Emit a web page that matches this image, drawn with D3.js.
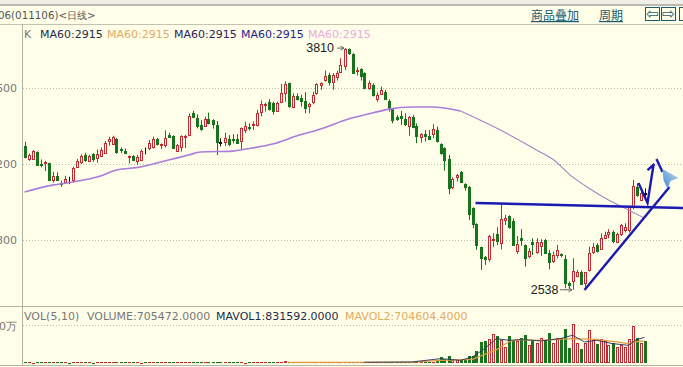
<!DOCTYPE html>
<html><head><meta charset="utf-8">
<style>html,body{margin:0;padding:0;background:#fefee9;overflow:hidden}svg{display:block}text{font-family:"DejaVu Sans",sans-serif;font-size:11px}</style>
<script src="https://cdn.jsdelivr.net/npm/d3@7/dist/d3.min.js"></script>
</head><body><svg id="c" width="683" height="367"></svg>
<script>
const opens=[3294,3226,3228,3263,3198,3209,3205,3114,3137,3102,3105,3119,3116,3184,3209,3247,3219,3251,3230,3244,3261,3319,3305,3333,3277,3270,3240,3244,3217,3221,3270,3284,3289,3331,3301,3300,3354,3347,3266,3286,3344,3354,3466,3440,3405,3400,3435,3430,3405,3314,3316,3333,3330,3332,3322,3379,3397,3404,3406,3471,3513,3525,3521,3476,3527,3572,3625,3499,3560,3546,3532,3506,3525,3572,3616,3642,3669,3634,3662,3683,3714,3805,3779,3690,3700,3679,3597,3618,3541,3569,3581,3534,3492,3448,3451,3437,3400,3448,3399,3343,3357,3346,3358,3379,3306,3283,3227,3078,3130,3160,3093,3081,2967,2885,2762,2709,2702,2800,2832,2783,2906,2927,2902,2744,2809,2772,2716,2788,2734,2771,2802,2730,2688,2720,2725,2700,2576,2581,2611,2630,2569,2643,2739,2774,2751,2814,2832,2844,2790,2832,2853,2853,2976,3081,3011,3046];
const closes=[3235,3247,3268,3196,3193,3212,3116,3135,3116,3096,3123,3117,3180,3216,3242,3219,3244,3226,3251,3273,3312,3331,3344,3263,3273,3259,3244,3221,3237,3270,3268,3312,3330,3307,3305,3335,3344,3286,3298,3345,3347,3452,3447,3400,3386,3438,3414,3407,3317,3310,3335,3308,3325,3313,3390,3399,3392,3411,3467,3514,3516,3490,3479,3520,3572,3620,3502,3557,3543,3532,3497,3518,3564,3620,3627,3664,3634,3669,3681,3720,3804,3783,3681,3695,3665,3599,3625,3564,3564,3590,3544,3493,3432,3439,3439,3413,3446,3397,3348,3357,3344,3330,3385,3322,3260,3218,3072,3120,3142,3107,3078,2937,2885,2774,2702,2699,2821,2806,2797,2909,2914,2867,2776,2779,2797,2704,2743,2779,2788,2790,2734,2685,2720,2748,2720,2572,2564,2636,2632,2569,2629,2730,2765,2744,2809,2828,2844,2797,2832,2878,2867,2972,3085,3037,3046,3042];
const highs=[3317,3256,3273,3266,3224,3216,3207,3159,3156,3112,3138,3133,3186,3226,3251,3259,3249,3256,3277,3287,3321,3344,3349,3337,3287,3282,3245,3247,3247,3277,3287,3326,3344,3337,3308,3377,3365,3351,3305,3351,3354,3466,3480,3461,3431,3449,3470,3435,3426,3335,3365,3352,3357,3357,3393,3423,3414,3423,3485,3534,3523,3541,3528,3528,3621,3635,3628,3572,3572,3564,3578,3523,3581,3625,3630,3692,3681,3678,3690,3757,3810,3808,3783,3709,3704,3683,3639,3625,3576,3607,3590,3541,3493,3458,3479,3467,3453,3458,3414,3362,3379,3379,3409,3397,3309,3288,3248,3130,3148,3163,3099,3085,2972,2888,2765,2716,2827,2836,2867,2993,2932,2930,2914,2821,2857,2776,2757,2809,2809,2804,2806,2748,2739,2774,2730,2721,2581,2704,2643,2639,2630,2765,2783,2783,2835,2844,2857,2850,2839,2885,2888,2976,3116,3099,3063,3072];
const lows=[3230,3217,3224,3191,3182,3163,3110,3102,3112,3080,3094,3094,3102,3180,3200,3212,3216,3212,3207,3238,3254,3296,3301,3254,3258,3252,3203,3216,3194,3217,3251,3273,3282,3298,3279,3287,3337,3282,3263,3265,3284,3352,3444,3387,3375,3396,3408,3386,3247,3293,3294,3294,3309,3309,3278,3362,3376,3379,3397,3450,3476,3481,3460,3474,3520,3528,3495,3495,3534,3502,3467,3467,3514,3564,3590,3634,3613,3590,3639,3678,3695,3774,3674,3665,3639,3593,3590,3555,3528,3564,3541,3476,3414,3427,3406,3400,3348,3388,3309,3313,3318,3327,3336,3313,3248,3165,3041,3067,3107,3099,3060,2906,2862,2748,2643,2669,2686,2762,2774,2751,2879,2860,2772,2727,2769,2660,2704,2721,2727,2716,2727,2646,2678,2704,2709,2546,2546,2538,2604,2564,2546,2634,2727,2734,2748,2804,2809,2783,2783,2821,2839,2839,2962,3028,3007,3020];
const volumes=[18000,26000,16000,24000,20000,28000,17000,22000,30000,19000,25000,16000,23000,27000,18000,21000,29000,16000,24000,19000,26000,22000,17000,28000,20000,23000,18000,25000,21000,16000,27000,19000,24000,22000,28000,17000,20000,26000,18000,23000,30000,19000,25000,21000,17000,24000,28000,20000,22000,18000,26000,23000,19000,27000,21000,16000,25000,20000,24000,18000,22000,29000,19000,26000,45000,52000,30000,21000,17000,24000,19000,23000,26000,20000,28000,18000,22000,25000,19000,21000,24000,35000,42000,20000,18000,26000,22000,24000,30000,19000,23000,27000,21000,25000,38000,40000,26000,32000,36000,44000,38000,46000,48000,56000,190000,140000,215000,110000,87000,87000,110000,217000,217000,390000,683000,715000,770000,932000,867000,737000,520000,867000,715000,715000,824000,900000,574000,715000,660000,824000,737000,975000,660000,824000,824000,1094000,488000,1257000,660000,444000,660000,1062000,737000,628000,770000,715000,574000,660000,520000,574000,520000,791000,1192000,824000,660000,705472];
const maIdx=[0,7,12,19,23,29,36,41,44,52,57,62,68,74,81,87,91,97,102,109,118,128,132,137,141,146,151,155];
const maVals=[3053,3089,3105,3137,3168,3184,3221,3247,3263,3268,3284,3305,3347,3384,3437,3468,3489,3500,3500,3479,3389,3274,3226,3132,3074,3011,2958,2915];
const mavol1Idx=[85,97,104,109,112,115,118,121,125,129,134,137,140,143,147,151,153,155];
const mavol1Vals=[24000,36000,140800,86700,195000,465800,790800,736700,758300,715000,790800,899100,682500,736700,628300,574100,758300,831592];
const mavol2Idx=[66,97,104,112,114,118,121,123,129,133,137,143,148,151,154,155];
const mavol2Vals=[22000,30000,86700,119000,227500,433300,682500,758300,736700,769100,790800,769100,682500,628300,715000,704604];
const priceTicks=[3600,3200,2800];
const volTicks=[1200000];
const maLabels=["MA60:2915","MA60:2915","MA60:2915","MA60:2915","MA60:2915"];
const volLabels=["VOL(5,10)","VOLUME:705472.0000","MAVOL1:831592.0000","MAVOL2:704604.4000"];
const flatLine=[[112.75,2995],[164.75,2968]];
const riseLine=[[140,2537],[161.25,3079]];
const zigLine=[[153.5,3100],[155.75,2995],[157.25,3195]];
const headLine=[[155.75,3168],[157.5,3200]];
const tailLine=[[158,3226],[159.5,3158]];
const cursorShape=[[159.5,3174],[163.5,3126],[161.5,3111],[160.75,3068],[159.75,3116]];

const svg=d3.select("#c");
const x=d3.scaleLinear().domain([0,155]).range([24.5,644.5]);
const y=d3.scaleLinear().domain([2800,3600]).range([240,88]);
const yv=d3.scaleLinear().domain([0,1200000]).range([363,326]);
const BG="#fefee9",RED="#c02a30",GRN="#17741d",AX="#b4b4a4",BLUE="#1a1ab0";
const snap=v=>Math.round(v)+.5;

// chrome
svg.append("rect").attr("x",0).attr("y",0).attr("width",683).attr("height",4).attr("fill","#efefe8");
svg.append("rect").attr("x",0).attr("y",4).attr("width",683).attr("height",2).attr("fill","#b9b9b4");
svg.append("line").attr("x1",0).attr("x2",683).attr("y1",24.5).attr("y2",24.5).attr("stroke","#c4c4ae");
svg.append("line").attr("x1",0).attr("x2",683).attr("y1",306.5).attr("y2",306.5).attr("stroke",AX);
svg.append("line").attr("x1",0).attr("x2",683).attr("y1",365.5).attr("y2",365.5).attr("stroke",AX);
svg.append("line").attr("x1",22.5).attr("x2",22.5).attr("y1",24).attr("y2",366).attr("stroke",AX);

// header
svg.append("text").attr("x",-2).attr("y",19).attr("fill","#555").style("font-size","10.3px").text("06(011106)<日线>");
svg.selectAll(".lnk").data([["商品叠加",531],["周期",599]]).join("text").attr("x",d=>d[1]).attr("y",20)
  .attr("fill","#1d5a6e").style("font-size","12px").style("font-family",'"Noto Sans CJK SC"').attr("text-decoration","underline").text(d=>d[0]);
svg.selectAll(".btn").data([645,661,679]).join("rect").attr("x",d=>d+.5).attr("y",7.5).attr("width",14).attr("height",13).attr("fill","none").attr("stroke","#1d5a6e");
svg.selectAll(".ar").data([["⇦",652.5],["⇨",668.5]]).join("text").attr("x",d=>d[1]).attr("y",19).attr("text-anchor","middle").attr("fill","#1d5a6e").style("font-size","15px").text(d=>d[0]);

// axes / grid
const ax=d3.axisLeft(y).tickValues(priceTicks).tickSize(0).tickPadding(0).tickFormat(d3.format("d"));
const gA=svg.append("g").attr("transform","translate(17,0)").call(ax);
gA.select(".domain").remove();
gA.selectAll("text").attr("fill","#777").attr("dy","0.36em");
svg.selectAll(".grid").data(priceTicks).join("line").attr("x1",23).attr("x2",683).attr("y1",d=>Math.round(y(d))+.5).attr("y2",d=>Math.round(y(d))+.5)
  .attr("stroke","#bcbcac").attr("stroke-dasharray","1,2");
const av=d3.axisLeft(yv).tickValues(volTicks).tickSize(0).tickPadding(0).tickFormat(d=>(d/10000)+"万");
const gV=svg.append("g").attr("transform","translate(17,0)").call(av);
gV.select(".domain").remove();
gV.selectAll("text").attr("fill","#777").attr("dy","0.36em");
svg.selectAll(".vgrid").data(volTicks).join("line").attr("x1",23).attr("x2",683).attr("y1",d=>Math.round(yv(d))-.5).attr("y2",d=>Math.round(yv(d))-.5)
  .attr("stroke","#bcbcac").attr("stroke-dasharray","1,2");

// labels
svg.append("text").attr("x",24).attr("y",38).attr("fill","#777").text("K");
const maCols=["#1d2c4c","#e3ab62","#30205f","#1c1c8e","#eaaae2"],maX=[40,107,174,241,308];
svg.selectAll(".mal").data(maLabels).join("text").attr("x",(d,i)=>maX[i]).attr("y",38).attr("fill",(d,i)=>maCols[i]).text(d=>d);
const vCols=["#777","#777","#1d2c4c","#e3ab62"],vX=[24,87,216,345];
svg.selectAll(".vl").data(volLabels).join("text").attr("x",(d,i)=>vX[i]).attr("y",320).attr("fill",(d,i)=>vCols[i]).text(d=>d);

// candles
const idx=d3.range(opens.length);
const dojiSet=new Set([11,30,49,155]);
const col=i=>dojiSet.has(i)?"#111":closes[i]>opens[i]?RED:GRN;
const cg=svg.append("g");
cg.selectAll(".w").data(idx).join("line").attr("x1",i=>Math.round(x(i))+.5).attr("x2",i=>Math.round(x(i))+.5)
  .attr("y1",i=>y(highs[i])).attr("y2",i=>y(lows[i])).attr("stroke",col);
cg.selectAll(".b").data(idx).join("rect")
  .attr("x",i=>Math.round(x(i))-.5).attr("width",2)
  .attr("y",i=>snap(y(Math.max(opens[i],closes[i])))).attr("height",i=>Math.max(0,Math.round(Math.abs(y(opens[i])-y(closes[i])))))
  .attr("fill",i=>closes[i]>opens[i]&&!dojiSet.has(i)?BG:col(i))
  .attr("stroke",col).attr("stroke-width",1);

// MA60
const lineIdx=d3.line().x(d=>x(d[0])).y(d=>y(d[1])).curve(d3.curveMonotoneX);
const maPts=maIdx.map((d,i)=>[d,maVals[i]]);
svg.append("path").attr("d",lineIdx(maPts.filter(d=>d[0]<=109))).attr("fill","none").attr("stroke","#ab7cdc").attr("stroke-width",1.6);
svg.append("path").attr("d",lineIdx(maPts.filter(d=>d[0]>=109))).attr("fill","none").attr("stroke","#a583c8").attr("stroke-width",1.1);

// volume
const vg=svg.append("g");
vg.selectAll(".v").data(idx).join("rect").attr("x",i=>Math.round(x(i))-.5).attr("width",2)
  .attr("y",i=>snap(yv(volumes[i]))).attr("height",i=>Math.max(.1,362.5-snap(yv(volumes[i]))))
  .attr("fill",i=>closes[i]<opens[i]?GRN:BG).attr("stroke",i=>closes[i]<opens[i]?GRN:RED).attr("stroke-width",1);
const lineV=d3.line().x(d=>x(d[0])).y(d=>yv(d[1]));
svg.append("path").attr("d",lineV(mavol2Idx.map((d,i)=>[d,mavol2Vals[i]]))).attr("fill","none").attr("stroke","#e39a45").attr("stroke-width",1.2);
svg.append("path").attr("d",lineV(mavol1Idx.map((d,i)=>[d,mavol1Vals[i]]))).attr("fill","none").attr("stroke","#20305c").attr("stroke-width",.9);

// extrema labels
const ext=[[80,3810,"3810"],[137,2538,"2538"]];
ext.forEach(e=>{
  const px=x(e[0]),py=y(e[1]);
  svg.append("text").attr("x",e[0]==80?334:558.5).attr("y",py+4).attr("text-anchor","end").style("font-family",'"Liberation Sans"').style("font-size","12.5px").attr("fill","#222").text(e[2]);
  svg.append("line").attr("x1",e[0]==80?337:560).attr("x2",px-.5).attr("y1",py).attr("y2",py).attr("stroke","#666");
  svg.append("path").attr("d",`M${px-4},${py-2}L${px-.5},${py}L${px-4},${py+2}`).attr("fill","none").attr("stroke","#666");
});

// drawn annotations
const lineA=d3.line().x(d=>x(d[0])).y(d=>y(d[1]));
[flatLine,riseLine,zigLine,headLine,tailLine].forEach(l=>svg.append("path").attr("d",lineA(l)).attr("fill","none").attr("stroke",BLUE).attr("stroke-width",2.4));
const grad=svg.append("defs").append("linearGradient").attr("id","cur").attr("x1","0").attr("y1","1").attr("x2","1").attr("y2","0");
grad.append("stop").attr("offset","0").attr("stop-color","#3d8bd6");
grad.append("stop").attr("offset","1").attr("stop-color","#c4d9ea");
svg.append("path").attr("d",lineA(cursorShape)+"Z").attr("fill","url(#cur)");
</script></body></html>
